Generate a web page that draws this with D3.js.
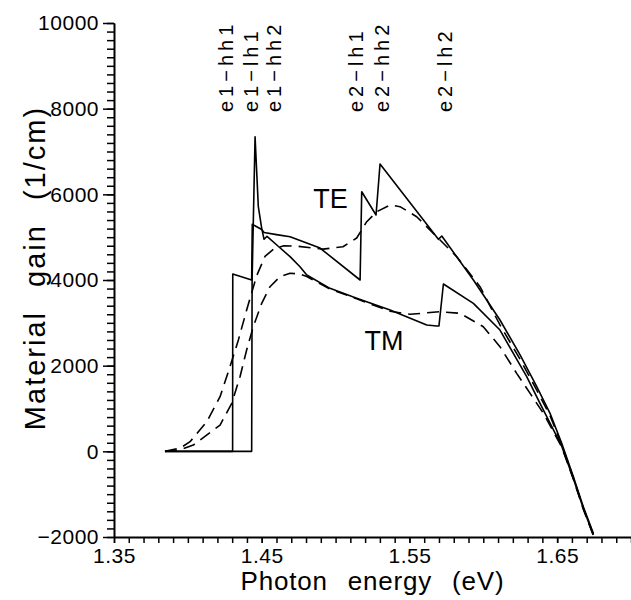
<!DOCTYPE html>
<html>
<head>
<meta charset="utf-8">
<script src="https://cdn.jsdelivr.net/npm/d3@7"></script>
<style>
  body { margin: 0; background: #fff; }
  svg { display: block; }
  text { font-family: "Liberation Sans", Arial, sans-serif; fill: #000; }
</style>
</head>
<body>
<div id="chart"></div>
<script>
// photon energy (eV) and material gain (1/cm)
const teSolidE = [1.3845, 1.4303, 1.4304, 1.4432, 1.4436, 1.4500, 1.4516, 1.4600, 1.4692, 1.4895, 1.5166, 1.5177,
  1.5274, 1.5301, 1.5696, 1.5719, 1.5933, 1.6113, 1.6249, 1.6362, 1.6452, 1.6531, 1.6610, 1.6677, 1.6745];
const teSolidG = [0, 0, 4140, 4000, 5300, 5180, 5110, 5060, 5010, 4745, 4000, 6061,
  5517, 6708, 4950, 5027, 4000, 3066, 2250, 1510, 887, 187, -593, -1294, -1915];

const tmSolidE = [1.3845, 1.4432, 1.4435, 1.4455, 1.4477, 1.4500, 1.4516, 1.4536, 1.4602, 1.4692, 1.4759, 1.4805,
  1.4962, 1.5143, 1.5369, 1.5617, 1.5685, 1.5700, 1.5730, 1.5933, 1.6113, 1.6294, 1.6384, 1.6452, 1.6531,
  1.6610, 1.6677, 1.6745];
const tmSolidG = [0, 0, 4000, 7345, 5711, 5207, 4950, 5020, 4817, 4545, 4310, 4116,
  3805, 3572, 3299, 2949, 2926, 2930, 3906, 3455, 2832, 1742, 1121, 661, 120,
  -640, -1330, -1950];

const teDashE = [1.3845, 1.3950, 1.4015, 1.4128, 1.4218, 1.4285, 1.4342, 1.4398, 1.4466, 1.4522, 1.4580, 1.4650,
  1.4737, 1.4915, 1.5050, 1.5143, 1.5211, 1.5279, 1.5369, 1.5436, 1.5549, 1.5685, 1.5820, 1.5978, 1.6113,
  1.6249, 1.6362, 1.6452, 1.6531, 1.6610, 1.6677, 1.6745];
const teDashG = [0, 80, 225, 691, 1275, 1975, 2599, 3299, 4100, 4550, 4720, 4800,
  4790, 4720, 4777, 4980, 5361, 5595, 5751, 5712, 5478, 5010, 4544, 3843, 2950,
  2150, 1430, 830, 150, -620, -1320, -1950];

const tmDashE = [1.3845, 1.3950, 1.4037, 1.4218, 1.4297, 1.4353, 1.4398, 1.4443, 1.4500, 1.4556, 1.4624, 1.4692,
  1.4759, 1.4805, 1.4962, 1.5143, 1.5369, 1.5504, 1.5707, 1.5843, 1.6000, 1.6113, 1.6226, 1.6317, 1.6407,
  1.6531, 1.6610, 1.6677, 1.6745];
const tmDashG = [0, 40, 147, 614, 1121, 1742, 2365, 2910, 3455, 3843, 4077, 4156,
  4140, 4080, 3790, 3560, 3270, 3199, 3260, 3222, 2910, 2443, 1821, 1354, 887,
  100, -650, -1350, -1960];

const transitionNames = ["e1\u2212hh1", "e1\u2212lh1", "e1\u2212hh2", "e2\u2212lh1", "e2\u2212hh2", "e2\u2212lh2"];
const transitionE = [1.4255, 1.4425, 1.4585, 1.5135, 1.5315, 1.5740];

const xLabelTicks = [1.35, 1.45, 1.55, 1.65];
const xMinorTicks = d3.range(135, 171).map(d => d / 100);
const yLabelTicks = [-2000, 0, 2000, 4000, 6000, 8000, 10000];
const yMinorTicks = d3.range(-2000, 10001, 200);

const width = 631, height = 600;

const svg = d3.select("#chart").append("svg")
  .attr("width", width)
  .attr("height", height);

const x = d3.scaleLinear().domain([1.35, 1.70]).range([114, 631]);
const y = d3.scaleLinear().domain([-2000, 10000]).range([537, 23]);

// x axis
svg.append("g")
  .attr("transform", `translate(0, ${y(-2000)})`)
  .call(d3.axisBottom(x).tickValues(xMinorTicks).tickSize(6).tickFormat(""))
  .call(g => g.selectAll("line").attr("stroke-width", 1.5));

svg.append("g")
  .attr("transform", `translate(0, ${y(-2000)})`)
  .call(d3.axisBottom(x).tickValues(xLabelTicks).tickSize(6).tickSizeOuter(0).tickPadding(5)
    .tickFormat(d3.format(".2f")))
  .call(g => g.select(".domain").attr("stroke-width", 2))
  .call(g => g.selectAll("line").attr("stroke-width", 1.5))
  .call(g => g.selectAll("text").attr("font-size", 21).attr("letter-spacing", 0.5)
    .style("font-family", "Liberation Sans, Arial, sans-serif"));

// y axis
svg.append("g")
  .attr("transform", `translate(${x(1.35)}, 0)`)
  .call(d3.axisLeft(y).tickValues(yMinorTicks).tickSize(7).tickFormat(""))
  .call(g => g.selectAll("line").attr("stroke-width", 1.5));

svg.append("g")
  .attr("transform", `translate(${x(1.35)}, 0)`)
  .call(d3.axisLeft(y).tickValues(yLabelTicks).tickSize(11).tickSizeOuter(0).tickPadding(4)
    .tickFormat(d3.format("d")))
  .call(g => g.select(".domain").attr("stroke-width", 2))
  .call(g => g.selectAll("line").attr("stroke-width", 1.5))
  .call(g => g.selectAll("text").attr("font-size", 21).attr("letter-spacing", 0.5)
    .style("font-family", "Liberation Sans, Arial, sans-serif"));

// axis titles
svg.append("text")
  .attr("x", (x.range()[0] + x.range()[1]) / 2)
  .attr("y", 590)
  .attr("text-anchor", "middle")
  .attr("font-size", 26)
  .attr("letter-spacing", 0.8)
  .attr("word-spacing", 12)
  .text("Photon energy (eV)");

svg.append("text")
  .attr("transform", "translate(45, 268) rotate(-90)")
  .attr("text-anchor", "middle")
  .attr("font-size", 29)
  .attr("letter-spacing", 2)
  .attr("word-spacing", 14)
  .text("Material gain (1/cm)");

// curves
const line = d3.line().x(d => x(d[0])).y(d => y(d[1]));
const series = [
  {e: teSolidE, g: teSolidG, dash: null},
  {e: tmSolidE, g: tmSolidG, dash: null},
  {e: teDashE, g: teDashG, dash: "12,7"},
  {e: tmDashE, g: tmDashG, dash: "12,7"}
];

svg.append("g")
  .selectAll("path")
  .data(series)
  .enter().append("path")
    .attr("d", s => line(d3.zip(s.e, s.g)))
    .attr("fill", "none")
    .attr("stroke", "#000")
    .attr("stroke-width", 1.6)
    .attr("stroke-linejoin", "round")
    .attr("stroke-dasharray", s => s.dash);

// transition labels
svg.append("g")
  .selectAll("text")
  .data(transitionNames)
  .enter().append("text")
    .attr("transform", (d, i) => `translate(${x(transitionE[i])}, 112) rotate(-90)`)
    .attr("dy", "0.35em")
    .attr("font-size", 20)
    .attr("letter-spacing", 4)
    .text(d => d);

// polarisation labels
svg.append("text")
  .attr("x", x(1.4965)).attr("y", 199)
  .attr("text-anchor", "middle")
  .attr("dy", "0.35em")
  .attr("font-size", 27)
  .text("TE");

svg.append("text")
  .attr("x", x(1.5328)).attr("y", 341)
  .attr("text-anchor", "middle")
  .attr("dy", "0.35em")
  .attr("font-size", 27)
  .text("TM");
</script>
</body>
</html>
